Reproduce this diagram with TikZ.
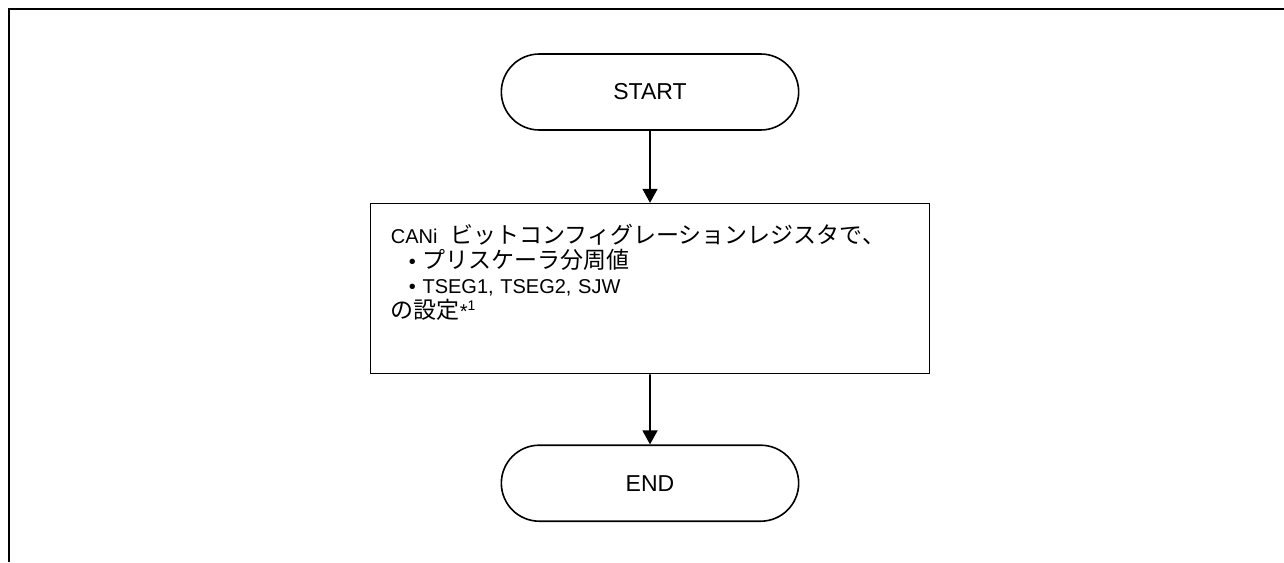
\documentclass[tikz,border=0pt]{standalone}
\usepackage{fontspec}
\setmainfont{Liberation Sans}
\newfontfamily\jp[Scale=1.15]{Noto Sans CJK JP}
\usetikzlibrary{arrows.meta,positioning,shapes.misc}

\begin{document}
\begin{tikzpicture}[x=1pt,y=1pt,
		term/.style={draw,line width=1.6pt,rounded rectangle,minimum width=304pt,minimum height=76pt,font=\fontsize{23}{27}\selectfont},
		proc/.style={draw,line width=1.6pt,minimum width=559pt,minimum height=170pt},
		flow/.style={line width=1.6pt,-{Triangle[length=14pt,width=15pt]}}]
		\useasboundingbox (0,0) rectangle (1284,-562);
		\draw[line width=2pt] (9,-562) -- (9,-9) -- (1284,-9);
		\node[term] (start) at (650,-92) {START};
		\node[proc,below=72pt of start] (cfg) {};
		\node[anchor=north west,inner sep=0pt,text width=520pt,align=left,font=\fontsize{20}{25}\selectfont] (cfgtext) at ([xshift=21pt,yshift=-21pt]cfg.north west) {CANi\hspace{13pt}{\jp ビットコンフィグレーションレジスタで、}\\
			\hspace*{18pt}\textbullet\ {\jp プリスケーラ分周値}\\
			\hspace*{18pt}\textbullet\ TSEG1, TSEG2, SJW\\
			{\jp の設定}*\textsuperscript{1}};
		\node[term,below=70pt of cfg] (end) {END};
		\draw[flow] (start) -- (cfg);
		\draw[flow] (cfg) -- (end);
\end{tikzpicture}
\end{document}
